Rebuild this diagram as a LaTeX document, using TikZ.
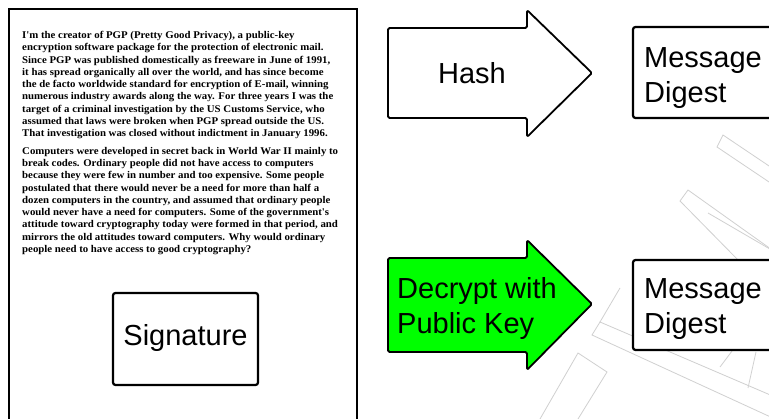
\documentclass[tikz,border=0pt]{standalone}
\usepackage{fontspec}
\setmainfont{Liberation Serif}
\newfontfamily\arialf{Liberation Sans}
\newfontfamily\docfont[FakeStretch=1.05]{Liberation Serif}
\definecolor{brightgreen}{RGB}{0,255,0}
\definecolor{wmgray}{RGB}{208,208,208}
\begin{document}
\begin{tikzpicture}[x=1pt,y=-1pt,
  frame/.style={draw=black,line width=2pt},
  boxed/.style={draw=black,line width=2.2pt,rounded corners=2.5pt},
  arrowshape/.style={draw=black,line width=1.8pt,rounded corners=1.5pt,line join=round},
  bigtext/.style={font=\arialf\fontsize{29}{35}\selectfont,inner sep=0pt},
  doc/.style={font=\docfont\fontsize{10.3}{12.3}\selectfont\bfseries,align=left,inner sep=0pt},
  wm/.style={draw=wmgray,line width=0.8pt}]
\useasboundingbox (0,0) rectangle (769,419);
\fill[white] (0,0) rectangle (769,419);
% watermark
\draw[wm] (775,170) -- (723,135) -- (717,147) -- (775,186);
\draw[wm] (775,252) -- (688,190) -- (680,201) -- (740,262);
\draw[wm] (708,213) -- (775,252);
\draw[wm] (775,397) -- (600,322) -- (592,335) -- (775,419);
\draw[wm] (620,288) -- (600,322);
\draw[wm] (540,419) -- (578,353) -- (607,372) -- (578,419);
\draw[wm] (720,367) -- (735,347);
\draw[wm] (756,352) -- (748,388);
% page
\draw[frame] (9,425) -- (9,9) -- (357,9) -- (357,425);
\node[doc,anchor=north west] (doctext) at (22,31) {%
I'm the creator of PGP (Pretty Good Privacy), a public-key\\
encryption software package for the protection of electronic mail.\\
Since PGP was published domestically as freeware in June of 1991,\\
it has spread organically all over the world, and has since become\\
the de facto worldwide standard for encryption of E-mail, winning\\
numerous industry awards along the way. For three years I was the\\
target of a criminal investigation by the US Customs Service, who\\
assumed that laws were broken when PGP spread outside the US.\\
That investigation was closed without indictment in January 1996.\\[5pt]
Computers were developed in secret back in World War II mainly to\\
break codes. Ordinary people did not have access to computers\\
because they were few in number and too expensive. Some people\\
postulated that there would never be a need for more than half a\\
dozen computers in the country, and assumed that ordinary people\\
would never have a need for computers. Some of the government's\\
attitude toward cryptography today were formed in that period, and\\
mirrors the old attitudes toward computers. Why would ordinary\\
people need to have access to good cryptography?};
\draw[boxed] (113,293) rectangle (258,385);
\node[bigtext] (sig) at (185.5,338) {Signature};
% hash arrow
\draw[arrowshape,fill=white] (388,28) -- (527,28) -- (527,10) -- (592,73) -- (527,137) -- (527,118) -- (388,118) -- cycle;
\node[bigtext] (hash) at (472,73) {Hash};
\draw[boxed,fill=white] (633,27) rectangle (780,118);
\node[bigtext,align=left,anchor=west] (md1) at (644,78) {Message\\Digest};
% decrypt arrow
\draw[arrowshape,fill=brightgreen] (388,258) -- (527,258) -- (527,240) -- (592,304) -- (527,370) -- (527,352) -- (388,352) -- cycle;
\node[bigtext,align=left,anchor=west] (dec) at (397,309) {Decrypt with\\Public Key};
\draw[boxed,fill=white] (633,260) rectangle (780,350);
\node[bigtext,align=left,anchor=west] (md2) at (644,309) {Message\\Digest};
\end{tikzpicture}
\end{document}
